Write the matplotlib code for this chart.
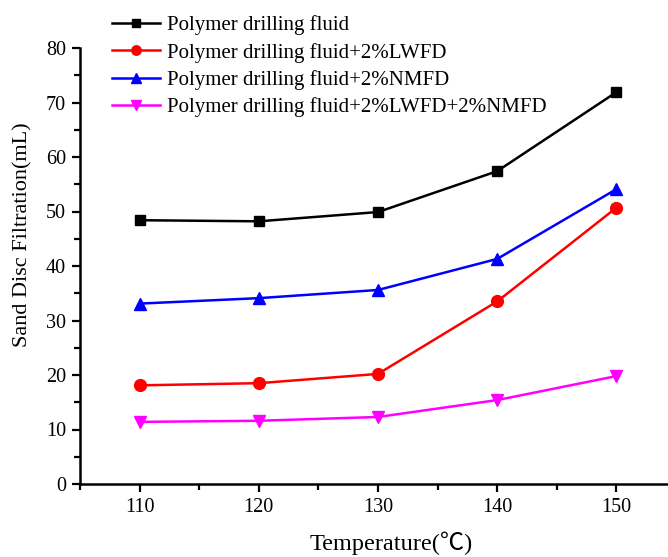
import numpy as np
import matplotlib
matplotlib.use("Agg")
import matplotlib.pyplot as plt
from matplotlib.ticker import MultipleLocator

# ------------------------------------------------
#  Data
# ------------------------------------------------
temperature = [110, 120, 130, 140, 150]

base_fluid = [48.4, 48.2, 49.9, 57.4, 71.9]
plus_lwfd = [18.1, 18.5, 20.2, 33.5, 50.7]
plus_nmfd = [33.1, 34.1, 35.6, 41.3, 54.1]
plus_both = [11.4, 11.6, 12.3, 15.4, 19.8]

labels = [
    "Polymer drilling fluid",
    "Polymer drilling fluid+2%LWFD",
    "Polymer drilling fluid+2%NMFD",
    "Polymer drilling fluid+2%LWFD+2%NMFD",
]

plt.rcParams['font.family'] = ['Liberation Serif', 'Noto Sans CJK SC', 'DejaVu Serif']

fig = plt.figure(figsize=(6.68, 5.57), dpi=100)
ax = fig.add_axes([80 / 668, 73 / 557, 596 / 668, 436 / 557])

series = [
    (base_fluid, "black", "s", 7.5),
    (plus_lwfd, "red", "o", 8.5),
    (plus_nmfd, "blue", "^", 9),
    (plus_both, "magenta", "v", 9),
]

handles = []
for (vals, col, mk, ms), lab in zip(series, labels):
    h, = ax.plot(temperature, vals, color=col, marker=mk, markersize=ms,
                 linewidth=1.8, label=lab, clip_on=False)
    handles.append(h)

ax.set_xlim(105, 155)
ax.set_ylim(0, 80)
ax.xaxis.set_major_locator(MultipleLocator(10))
ax.xaxis.set_minor_locator(MultipleLocator(5))
ax.yaxis.set_major_locator(MultipleLocator(10))
ax.yaxis.set_minor_locator(MultipleLocator(5))

for s in ["top", "right"]:
    ax.spines[s].set_visible(False)
for s in ["left", "bottom"]:
    ax.spines[s].set_linewidth(1.8)

ax.tick_params(which="major", direction="out", length=6, width=1.6,
               labelsize=14.5, pad=4)
ax.tick_params(which="minor", direction="out", length=4, width=1.6)

ax.set_xlabel("Temperature(℃)", fontsize=17.5)
ax.xaxis.set_label_coords(0.522, -0.108)
ax.xaxis.label.set_va("top")
ax.set_ylabel("Sand Disc Filtration(mL)", fontsize=16)
ax.yaxis.set_label_coords(-0.079, 0.571)

fig.legend(handles=handles, loc="upper left", bbox_to_anchor=(104 / 668, 1 - 7 / 557),
           frameon=False, fontsize=15, handlelength=2.3, handletextpad=0.33,
           labelspacing=0.36, borderaxespad=0, markerscale=0.8)

fig.savefig("out.png", dpi=100)
